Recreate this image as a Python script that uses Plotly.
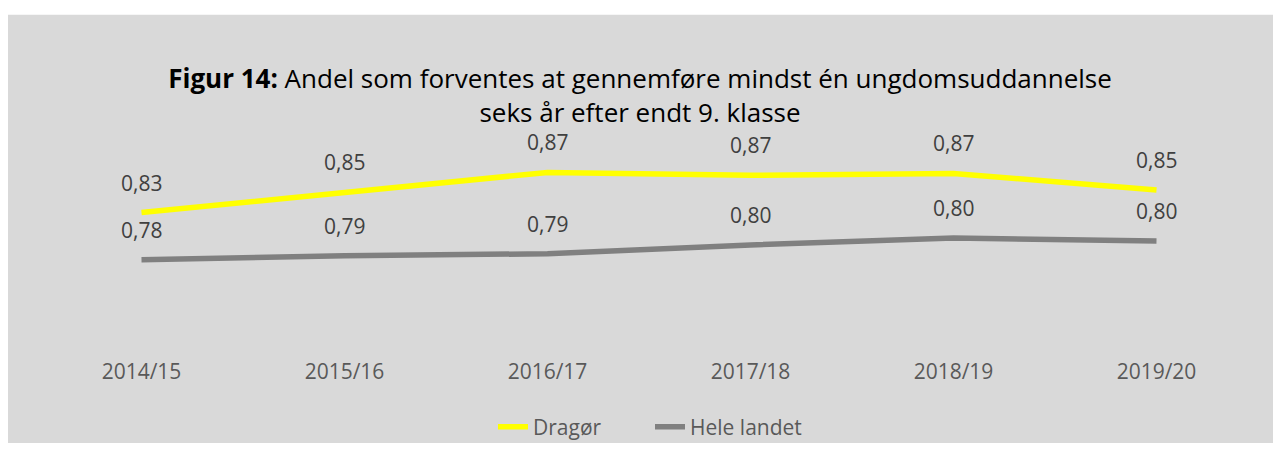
import plotly.graph_objects as go

categories = ["2014/15", "2015/16", "2016/17", "2017/18", "2018/19", "2019/20"]
dragoer = [0.830, 0.851, 0.871, 0.868, 0.870, 0.853]
hele_landet = [0.782, 0.786, 0.788, 0.797, 0.804, 0.801]
series_names = ["Dragør", "Hele landet"]
title_text = "<b>Figur 14:</b> Andel som forventes at gennemføre mindst én ungdomsuddannelse<br>seks år efter endt 9. klasse"

W, H = 1273, 459
ML, MR, MT, MB = 40, 15, 144, 115
FONT = "Open Sans"

fig = go.Figure()
fig.add_trace(go.Scatter(x=categories, y=dragoer, mode="lines", name=series_names[0],
                         line=dict(color="#FFFF00", width=5.5)))
fig.add_trace(go.Scatter(x=categories, y=hele_landet, mode="lines", name=series_names[1],
                         line=dict(color="#808080", width=5.5)))

def fmt(v):
    return f"{v:.2f}".replace(".", ",")

annotations = []
for series in (dragoer, hele_landet):
    for c, v in zip(categories, series):
        annotations.append(dict(x=c, y=v, xref="x", yref="y", text=fmt(v), showarrow=False,
                                yshift=30, font=dict(family=FONT, size=21, color="#404040")))

pw = W - ML - MR
ph = H - MT - MB
def px_x(p):
    return (p - ML) / pw
def px_y(p):
    return (H - MB - p) / ph

fig.update_layout(
    width=W, height=H,
    margin=dict(l=ML, r=MR, t=MT, b=MB, pad=0),
    paper_bgcolor="white",
    plot_bgcolor="rgba(0,0,0,0)",
    title=dict(text=title_text, x=640 / W, xanchor="center", y=1 - 88 / H, yanchor="middle",
               font=dict(family=FONT, size=26, color="#000000")),
    xaxis=dict(type="category", range=[-0.5, 5.5], automargin=False, showgrid=False,
               zeroline=False, showline=False, ticks="",
               tickfont=dict(family=FONT, size=21, color="#595959"), ticklabelstandoff=17),
    yaxis=dict(range=[0.70, 0.90], visible=False, showgrid=False, zeroline=False,
               automargin=False),
    legend=dict(orientation="h", x=px_x(650), xanchor="center", y=px_y(433), yanchor="middle",
                bgcolor="rgba(0,0,0,0)", font=dict(family=FONT, size=21, color="#595959"),
                entrywidth=112),
    annotations=annotations,
    shapes=[dict(type="rect", xref="paper", yref="paper", x0=px_x(8), x1=px_x(1273),
                 y0=px_y(449), y1=px_y(12), fillcolor="#D9D9D9", line=dict(width=0),
                 layer="below")],
    showlegend=True,
)

fig.write_html("out.html", config={"displayModeBar": False},
               post_script="document.body.style.margin='0';document.body.style.overflow='hidden';")
